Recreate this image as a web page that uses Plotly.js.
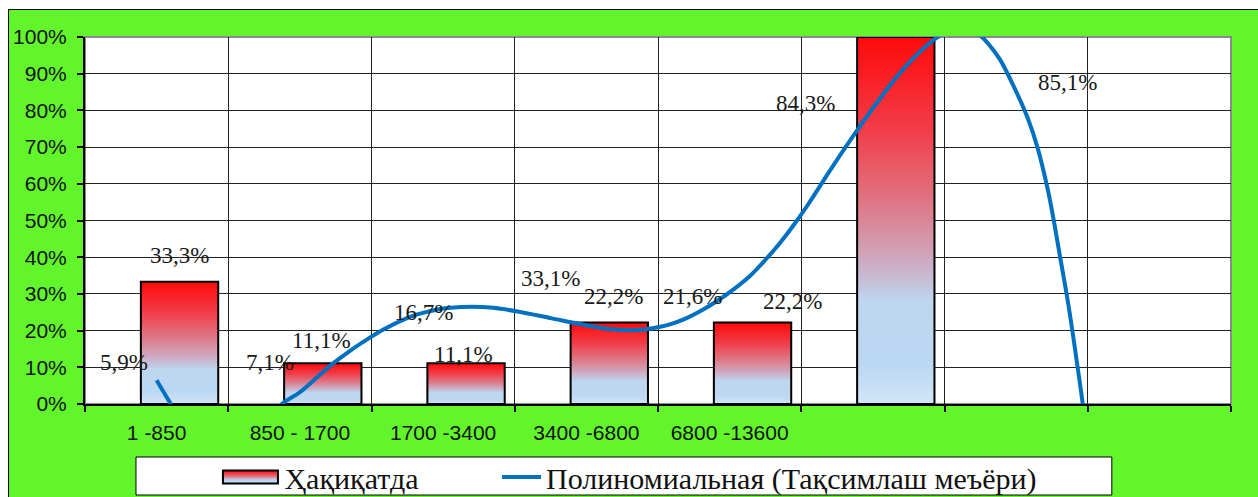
<!DOCTYPE html>
<html>
<head>
<meta charset="utf-8">
<script src="https://cdn.plot.ly/plotly-3.0.1.min.js"></script>
<style>
  html, body { margin: 0; padding: 0; background: #fff; width: 1258px; height: 497px; overflow: hidden; }
  #frame { position: absolute; left: 8px; top: 9px; width: 1249px; height: 500px; background: #62f52c;
           border: 1px solid #000; border-bottom: none; }
  #chart { position: absolute; left: 0; top: 0; width: 1258px; height: 497px; }
</style>
</head>
<body>
<div id="frame"></div>
<div id="chart"></div>
<script>
  // ---- данные ----
  var CATS = ["1 -850", "850 - 1700", "1700 -3400", "3400 -6800", "6800 -13600"];
  var N_SLOTS = 8;                                        // всего позиций на оси
  var FACT = [33.3, 11.1, 11.1, 22.2, 22.2, 100.0];       // Ҳақиқатда, %
  var NORM = [5.9, 7.1, 16.7, 33.1, 21.6, 84.3, 85.1];    // Тақсимлаш меъёри, % (ряд скрыт, видны подписи)
  // полиномиальная линия тренда, снята по точкам с картинки (x — номер позиции)
  var TREND_X = [0.00, 0.05, 0.10, 0.25, 0.45, 0.65, 0.80, 0.875, 1.00, 1.12, 1.23, 1.35, 1.47, 1.58,
                 1.70, 1.82, 1.93, 2.05, 2.20, 2.35, 2.52, 2.75, 2.98, 3.10, 3.20, 3.30, 3.40, 3.50,
                 3.60, 3.70, 3.80, 3.91, 4.03, 4.14, 4.25, 4.35, 4.45, 4.55, 4.70, 4.85, 5.00, 5.14,
                 5.26, 5.38, 5.45, 5.55, 5.62, 5.68, 5.75, 5.82, 5.89, 5.98, 6.08, 6.15, 6.22, 6.26,
                 6.31, 6.36, 6.40, 6.46, 6.52];
  var TREND_Y = [6.5, 3.2, 0.0, -8, -12, -9, -3.5, 0.0, 3.2, 7.3, 11.0, 14.5, 17.6, 20.2,
                 22.6, 24.4, 25.5, 26.2, 26.5, 26.2, 25.2, 23.4, 21.6, 20.8, 20.3, 20.1, 20.3, 20.9,
                 21.9, 23.4, 25.4, 28.0, 31.3, 34.8, 39.3, 43.8, 48.9, 54.5, 63.6, 72.3, 80.6, 87.9,
                 93.3, 97.8, 99.9, 102.0, 102.7, 102.4, 100.4, 97.5, 93.7, 86.8, 78.0, 69.8, 58.6, 50.6,
                 39.4, 28.2, 18.0, 1.5, -16];

  // где стоят подписи (в единицах осей), их двигали вручную
  var FACT_LBL_POS = [[0.16, 40.6], [1.15, 17.4], [2.14, 13.4], [3.19, 29.2], [4.44, 27.8], [5.31, 102.5]];
  var NORM_LBL_POS = [[-0.23, 11.2], [0.79, 11.2], [1.86, 24.8], [2.75, 34.3], [3.74, 29.4], [4.53, 82.0], [6.36, 87.5]];

  var SERIF = "Liberation Serif, Times New Roman, serif";
  var SANS = "Liberation Sans, Arial, sans-serif";

  function pct(v) { return v.toFixed(1).replace(".", ",") + "%"; }

  var data = [
    {
      type: "bar", name: "Ҳақиқатда", legend: "legend",
      x: FACT.map(function (v, i) { return i; }), y: FACT,
      width: 0.54, offset: -0.11,
      marker: { color: "#e06070", line: { color: "#000", width: 2 } },
      hoverinfo: "skip"
    },
    {
      type: "scatter", mode: "lines", name: "Полиномиальная (Тақсимлаш меъёри)", legend: "legend2",
      x: TREND_X, y: TREND_Y,
      line: { color: "#0070c0", width: 4, shape: "spline", smoothing: 1 },
      hoverinfo: "skip"
    }
  ];

  var annotations = [];
  function addLabels(vals, pos) {
    vals.forEach(function (v, i) {
      annotations.push({ x: pos[i][0], y: pos[i][1], text: pct(v), showarrow: false,
        xanchor: "center", yanchor: "middle", font: { family: SERIF, size: 23, color: "#1a1a1a" } });
    });
  }
  addLabels(FACT, FACT_LBL_POS);
  addLabels(NORM, NORM_LBL_POS);

  var bounds = [];
  for (var b = 0; b <= N_SLOTS; b++) bounds.push(b - 0.5);

  var legendFont = { family: SERIF, size: 30, color: "#111" };

  var layout = {
    width: 1258, height: 497,
    margin: { l: 85, r: 27, t: 37, b: 93, autoexpand: false },
    paper_bgcolor: "rgba(0,0,0,0)", plot_bgcolor: "#fff",
    showlegend: true,
    xaxis: {
      range: [-0.5, N_SLOTS - 0.5], tickmode: "array",
      tickvals: CATS.map(function (c, i) { return i; }), ticktext: CATS,
      ticks: "", showgrid: false, zeroline: false,
      showline: true, linecolor: "#000", linewidth: 2,
      ticklabelstandoff: 9,
      tickfont: { family: SANS, size: 21, color: "#111" },
      minor: { tickmode: "array", tickvals: bounds, ticks: "outside", ticklen: 6, tickwidth: 2,
               tickcolor: "#000", showgrid: true, gridcolor: "#222", gridwidth: 1 }
    },
    yaxis: {
      range: [0, 100], tick0: 0, dtick: 10, ticksuffix: "%",
      ticks: "outside", ticklen: 6, tickwidth: 2, tickcolor: "#000",
      showline: true, linecolor: "#000", linewidth: 2,
      showgrid: true, gridcolor: "#222", gridwidth: 1, zeroline: false,
      ticklabelstandoff: 6,
      tickfont: { family: SANS, size: 21, color: "#111" }
    },
    legend: {
      orientation: "h", x: 0.1147, xanchor: "left", y: -0.199, yanchor: "middle",
      bgcolor: "rgba(0,0,0,0)", borderwidth: 0, itemwidth: 58, font: legendFont
    },
    legend2: {
      orientation: "h", x: 0.3595, xanchor: "left", y: -0.199, yanchor: "middle",
      bgcolor: "rgba(0,0,0,0)", borderwidth: 0, itemwidth: 39, font: legendFont
    },
    shapes: [
      // рамка области построения (серая)
      { type: "rect", xref: "paper", yref: "paper", x0: 0, x1: 1, y0: 0, y1: 1,
        line: { color: "#8a8a8a", width: 2 }, layer: "between" },
      // рамка легенды
      { type: "rect", xref: "paper", yref: "paper", x0: 0.0445, x1: 0.896, y0: -0.248, y1: -0.1444,
        fillcolor: "#fff", line: { color: "#000", width: 1 }, layer: "below" }
    ],
    annotations: annotations
  };

  // градиент столбиков (красный сверху -> голубой снизу), как в Excel
  function applyGradient(gd) {
    var svg = gd.querySelector("svg.main-svg");
    var defs = svg.querySelector("defs");
    var NS = "http://www.w3.org/2000/svg";
    var g = document.createElementNS(NS, "linearGradient");
    g.setAttribute("id", "barGrad");
    g.setAttribute("x1", "0"); g.setAttribute("y1", "0");
    g.setAttribute("x2", "0"); g.setAttribute("y2", "1");
    [[0, "#ff0a0a"], [0.25, "#f23c48"], [0.45, "#df7684"], [0.6, "#cfa6bc"],
     [0.72, "#bed6f0"], [0.9, "#bcd8f3"], [1, "#d2e6f8"]].forEach(function (s) {
      var st = document.createElementNS(NS, "stop");
      st.setAttribute("offset", s[0]);
      st.setAttribute("stop-color", s[1]);
      g.appendChild(st);
    });
    defs.appendChild(g);
    gd.querySelectorAll(".barlayer .point path").forEach(function (p) { p.style.fill = "url(#barGrad)"; });
    // легенда: плашка столбика шире, линия длиннее, как у Excel
    gd.querySelectorAll(".legend .traces").forEach(function (item) {
      item.querySelectorAll(".legendpoints path").forEach(function (p) {
        p.setAttribute("d", "M27.5,6.5H-27.5V-6.5H27.5Z");
        p.style.fill = "url(#barGrad)";
        p.style.stroke = "#000";
        p.style.strokeWidth = "2px";
      });
      item.querySelectorAll(".legendlines path").forEach(function (p) {
        p.setAttribute("d", "M5,0h44");
      });
    });
  }

  var gd = document.getElementById("chart");
  Plotly.newPlot(gd, data, layout, { staticPlot: true, displayModeBar: false }).then(function () {
    applyGradient(gd);
  });
</script>
</body>
</html>
